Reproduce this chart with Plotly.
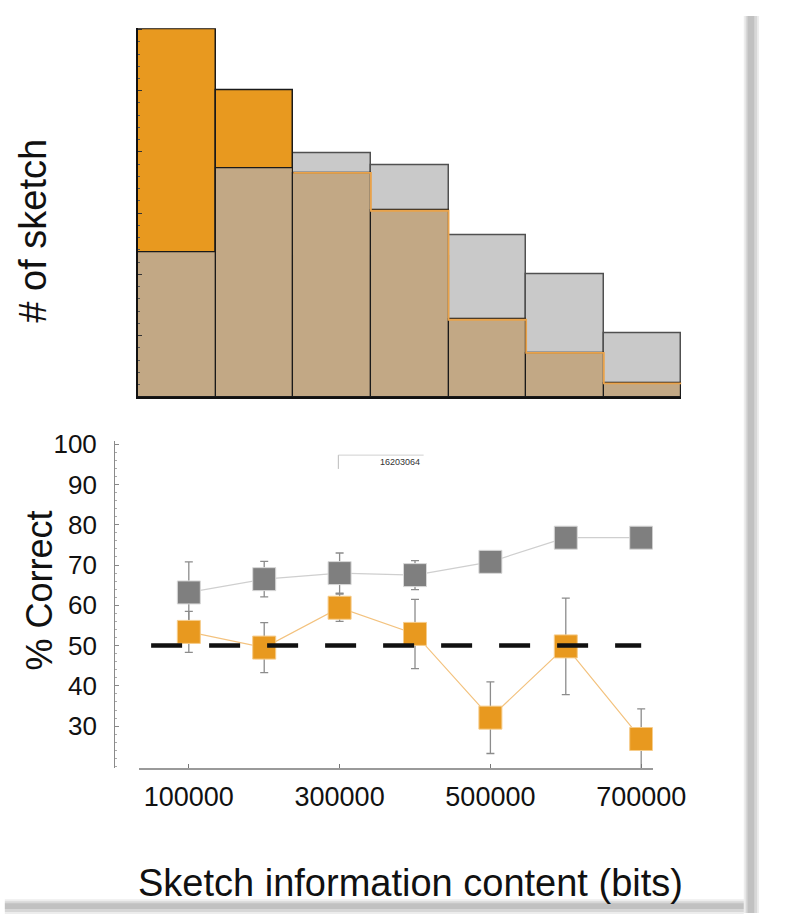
import numpy as np
import plotly.graph_objects as go

W, H = 794, 915
def X(px): return px / W
def Y(py): return 1 - py / H

# ---------------- data ----------------
# top histogram (7 bins of sketch information content)
hist_bins = [1, 2, 3, 4, 5, 6, 7]
hist_orange = [30.0, 25.0, 18.3, 15.2, 6.3, 3.6, 1.1]
hist_gray = [11.8, 18.7, 19.9, 18.9, 13.2, 10.0, 5.2]

# bottom: % correct vs information content
info_bits = [100000, 200000, 300000, 400000, 500000, 600000, 700000]
gray_pct = [63.2, 66.5, 68.0, 67.5, 70.8, 76.8, 76.8]
gray_err = [7.6, 4.4, 5.0, 3.6, 1.5, 1.0, 1.0]
orange_pct = [53.4, 49.5, 59.4, 52.9, 32.1, 49.8, 26.8]
orange_err = [5.1, 6.2, 3.4, 8.6, 8.9, 12.0, 7.5]
chance_x = [50000, 700000]
chance_y = [50, 50]

x_ticks = [100000, 300000, 500000, 700000]
y_ticks = [30, 40, 50, 60, 70, 80, 90, 100]

ORANGE = "#E8991F"
TAN = "#C2A885"
LGRAY = "#C9C9C9"
FONT = "Liberation Sans, Arial, Helvetica, sans-serif"

fig = go.Figure()

# ---------- top histogram ----------
ho = np.array(hist_orange)
hg = np.array(hist_gray)
fig.add_trace(go.Bar(x=hist_bins, y=hg, width=1, marker=dict(color=LGRAY, line=dict(color="#505050", width=1.5)),
                     xaxis="x", yaxis="y", showlegend=False))
fig.add_trace(go.Bar(x=hist_bins, y=ho, width=1, marker=dict(color=ORANGE, line=dict(color="#1a1a1a", width=1.5)),
                     xaxis="x", yaxis="y", showlegend=False))
fig.add_trace(go.Bar(x=hist_bins, y=np.minimum(ho, hg), width=1,
                     marker=dict(color=TAN, line=dict(color="#1a1a1a", width=1.2)),
                     xaxis="x", yaxis="y", showlegend=False))
# orange step outline where orange is below gray
idx = [i for i in range(len(hist_bins)) if ho[i] < hg[i]]
sx = [hist_bins[i] - 0.5 for i in idx] + [hist_bins[idx[-1]] + 0.5]
sy = [ho[i] for i in idx] + [ho[idx[-1]]]
fig.add_trace(go.Scatter(x=sx, y=sy, mode="lines", line=dict(color="#E9A24A", width=1.8, shape="hv"),
                         xaxis="x", yaxis="y", showlegend=False, hoverinfo="skip"))

# ---------- bottom line chart ----------
fig.add_trace(go.Scatter(
    x=info_bits, y=gray_pct, mode="lines+markers",
    line=dict(color="#CFCFCF", width=1.2),
    marker=dict(symbol="square", size=23, color="#7F7F7F", line=dict(color="#D8D8D8", width=1)),
    error_y=dict(type="data", array=gray_err, color="#8C8C8C", thickness=1.3, width=4),
    xaxis="x2", yaxis="y2", showlegend=False))
fig.add_trace(go.Scatter(
    x=info_bits, y=orange_pct, mode="lines+markers",
    line=dict(color="#F3C27E", width=1.2),
    marker=dict(symbol="square", size=23, color=ORANGE, line=dict(color="#F6CC8A", width=1)),
    error_y=dict(type="data", array=orange_err, color="#8C8C8C", thickness=1.3, width=4),
    xaxis="x2", yaxis="y2", showlegend=False))
fig.add_trace(go.Scatter(
    x=chance_x, y=chance_y, mode="lines",
    line=dict(color="#111111", width=4.5, dash="31px,27px"),
    xaxis="x2", yaxis="y2", showlegend=False, hoverinfo="skip"))

# axis geometry for bottom panel
px_per = 472 / 600000
x2_lo = 100000 - (197 - 145) / px_per
x2_hi = 700000 + (681 - 669) / px_per
y2_lo = 50 - (766 - 642) / 4.08
y2_hi = 50 + (642 - 435) / 4.08

fig.update_layout(
    width=W, height=H, autosize=False, margin=dict(l=0, r=0, t=0, b=0, pad=0),
    paper_bgcolor="white", plot_bgcolor="rgba(0,0,0,0)",
    barmode="overlay", bargap=0,
    font=dict(family=FONT, color="#111"),
    xaxis=dict(domain=[X(144), X(711)], range=[0.5, 7.5], anchor="y",
               showline=True, linecolor="#111", linewidth=1.5, ticks="", showticklabels=False,
               showgrid=False, zeroline=False),
    yaxis=dict(domain=[Y(390), Y(16.5)], range=[0, 30.1], anchor="x",
               showline=True, linecolor="#111", linewidth=1.5, ticks="inside", ticklen=4, tickcolor="#333",
               dtick=5, tick0=0, showticklabels=False, showgrid=False, zeroline=False,
               minor=dict(ticks="inside", ticklen=2, dtick=1, tickcolor="#555", showgrid=False)),
    xaxis2=dict(domain=[X(145), X(681)], range=[x2_lo, x2_hi], anchor="y2",
                showline=True, linecolor="#9A9A9A", linewidth=1.5, ticks="inside", ticklen=4, tickcolor="#777",
                tickvals=x_ticks, ticktext=[str(v) for v in x_ticks],
                tickfont=dict(size=27, color="#111"), ticklabelstandoff=4,
                showgrid=False, zeroline=False),
    yaxis2=dict(domain=[Y(766), Y(435)], range=[y2_lo, y2_hi], anchor="free", position=X(119),
                showline=True, linecolor="#8A8A8A", linewidth=1, ticks="inside", ticklen=4, tickcolor="#888",
                tickvals=y_ticks, tickfont=dict(size=26, color="#111"), ticklabelstandoff=12,
                minor=dict(ticks="inside", ticklen=2, dtick=2, tickcolor="#AAA", showgrid=False),
                showgrid=False, zeroline=False),
)

# titles
fig.add_annotation(text="# of sketch", x=X(35), y=Y(222), xref="paper", yref="paper",
                   textangle=-90, showarrow=False, font=dict(size=38, color="#111"),
                   xanchor="center", yanchor="middle")
fig.add_annotation(text="% Correct", x=X(41), y=Y(586), xref="paper", yref="paper",
                   textangle=-90, showarrow=False, font=dict(size=36, color="#111"),
                   xanchor="center", yanchor="middle")
fig.add_annotation(text="Sketch information content (bits)", x=X(428), y=Y(883), xref="paper", yref="paper",
                   showarrow=False, font=dict(size=38, color="#111"), xanchor="center", yanchor="middle")

# small stray box with number
fig.add_shape(type="line", xref="paper", yref="paper", x0=X(353), x1=X(442), y0=Y(449), y1=Y(449),
              line=dict(color="#D0D0D0", width=1))
fig.add_shape(type="line", xref="paper", yref="paper", x0=X(353), x1=X(353), y0=Y(449), y1=Y(463),
              line=dict(color="#BBBBBB", width=1))
fig.add_annotation(text="16203064", x=X(440), y=Y(456), xref="paper", yref="paper", showarrow=False,
                   font=dict(size=9, color="#333"), xanchor="right", yanchor="middle")

# page shadow (right & bottom)
for (a, b, op) in [(776, 792, 0.07), (778, 790, 0.09), (780, 787, 0.10)]:
    fig.add_shape(type="rect", xref="paper", yref="paper", x0=X(a), x1=X(b), y0=Y(913), y1=Y(4),
                  line=dict(width=0), fillcolor=f"rgba(0,0,0,{op})", layer="above")
for (a, b, op) in [(899, 914, 0.07), (901, 912, 0.09), (903, 909, 0.10)]:
    fig.add_shape(type="rect", xref="paper", yref="paper", x0=X(5), x1=X(776), y0=Y(b), y1=Y(a),
                  line=dict(width=0), fillcolor=f"rgba(0,0,0,{op})", layer="above")

post = (
    "var de=document.documentElement;de.style.margin='0';de.style.padding='0';de.style.overflow='hidden';"
    "document.body.style.margin='0';document.body.style.padding='0';document.body.style.overflow='hidden';"
)
fig.write_html("out.html", config={"responsive": False, "displayModeBar": False}, post_script=post)
